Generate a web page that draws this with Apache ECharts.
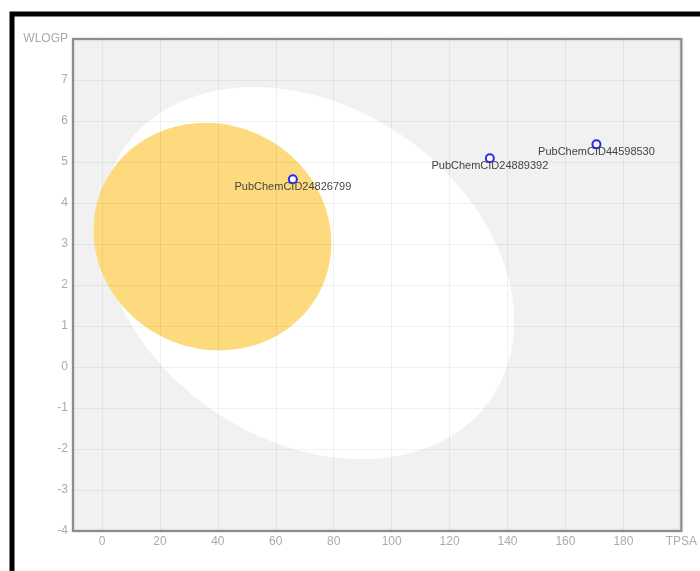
<!DOCTYPE html>
<html>
<head>
<meta charset="utf-8">
<style>
  html, body { margin: 0; padding: 0; background: #ffffff; }
  #chart { width: 700px; height: 571px; }
</style>
<script src="https://cdn.jsdelivr.net/npm/echarts@6/dist/echarts.min.js"></script>
</head>
<body>
<div id="chart"></div>
<script>
// Molecules plotted on the TPSA / WLOGP plane
const moleculeNames = ['PubChemCID24826799', 'PubChemCID24889392', 'PubChemCID44598530'];
const moleculeTPSA = [65.9, 133.9, 170.7];
const moleculeWLOGP = [4.58, 5.09, 5.43];

// Egg regions (white = HIA, yolk = BBB): centre and two conjugate semi-axis vectors
const regionNames = ['HIA', 'BBB'];
const regionColors = ['#ffffff', '#fdda7d'];
const regionCenters = [[71.05, 2.29], [38.12, 3.18]];
const regionAxisA = [[71.26, -1.18], [41.03, -0.16]];
const regionAxisB = [[0, 4.38], [0, 2.77]];

// Tick values
const xTicks = [0, 20, 40, 60, 80, 100, 120, 140, 160, 180, 200];
const yGridValues = [-3, -2, -1, 0, 1, 2, 3, 4, 5, 6, 7];
const xGridValues = [0, 20, 40, 60, 80, 100, 120, 140, 160, 180];

const FONT = "'Liberation Sans', Arial, sans-serif";
const TICK_COLOR = '#ababab';

const chart = echarts.init(document.getElementById('chart'), null, { renderer: 'canvas' });

function renderRegion(params, api) {
  const i = params.dataIndex;
  const c = regionCenters[i], a = regionAxisA[i], b = regionAxisB[i];
  const pts = [];
  const n = 180;
  for (let k = 0; k < n; k++) {
    const t = 2 * Math.PI * k / n;
    const ct = Math.cos(t), st = Math.sin(t);
    pts.push(api.coord([c[0] + a[0] * ct + b[0] * st, c[1] + a[1] * ct + b[1] * st]));
  }
  return {
    type: 'polygon',
    shape: { points: pts },
    style: { fill: regionColors[i] }
  };
}

const option = {
  backgroundColor: '#ffffff',
  animation: false,
  graphic: [{
    type: 'rect',
    shape: { x: 12, y: 14, width: 800, height: 800 },
    style: { fill: 'none', stroke: '#000000', lineWidth: 5 },
    z: 100
  }],
  grid: {
    left: 73, top: 39, width: 610, height: 492,
    show: true,
    backgroundColor: '#f1f1f1',
    borderColor: '#8c8c8c',
    borderWidth: 2,
    shadowColor: 'rgba(0,0,0,0.25)',
    shadowBlur: 2
  },
  xAxis: {
    type: 'value',
    min: -10, max: 200,
    axisLine: { show: false },
    axisTick: { show: false },
    splitLine: { show: false },
    axisLabel: {
      customValues: xTicks,
      color: TICK_COLOR,
      fontFamily: FONT,
      fontSize: 12,
      margin: 5,
      formatter: v => (v === 200 ? 'TPSA' : String(v))
    }
  },
  yAxis: {
    type: 'value',
    min: -4, max: 8, interval: 1,
    axisLine: { show: false },
    axisTick: { show: false },
    splitLine: { show: false },
    axisLabel: {
      color: TICK_COLOR,
      fontFamily: FONT,
      fontSize: 12,
      margin: 5,
      showMaxLabel: true,
      showMinLabel: true,
      formatter: v => (v === 8 ? 'WLOGP' : String(v))
    }
  },
  series: [
    {
      name: 'regions',
      type: 'custom',
      z: 1,
      silent: true,
      renderItem: renderRegion,
      data: regionCenters.map((c, i) => ({ name: regionNames[i], value: c }))
    },
    {
      name: 'grid',
      type: 'line',
      z: 2,
      data: [],
      silent: true,
      markLine: {
        silent: true,
        symbol: ['none', 'none'],
        label: { show: false },
        lineStyle: { color: 'rgba(0,0,0,0.055)', width: 1, type: 'solid' },
        data: xGridValues.map(v => ({ xAxis: v })).concat(yGridValues.map(v => ({ yAxis: v })))
      }
    },
    {
      name: 'molecules',
      type: 'scatter',
      z: 3,
      symbol: 'circle',
      symbolSize: 8,
      itemStyle: { color: '#ffffff', borderColor: '#2a2af0', borderWidth: 2, opacity: 1 },
      label: {
        show: true,
        position: 'inside',
        offset: [0, 7.5],
        formatter: p => p.name,
        color: '#444444',
        fontFamily: FONT,
        fontSize: 11
      },
      data: moleculeNames.map((n, i) => ({ name: n, value: [moleculeTPSA[i], moleculeWLOGP[i]] }))
    }
  ]
};

chart.setOption(option);
</script>
</body>
</html>
